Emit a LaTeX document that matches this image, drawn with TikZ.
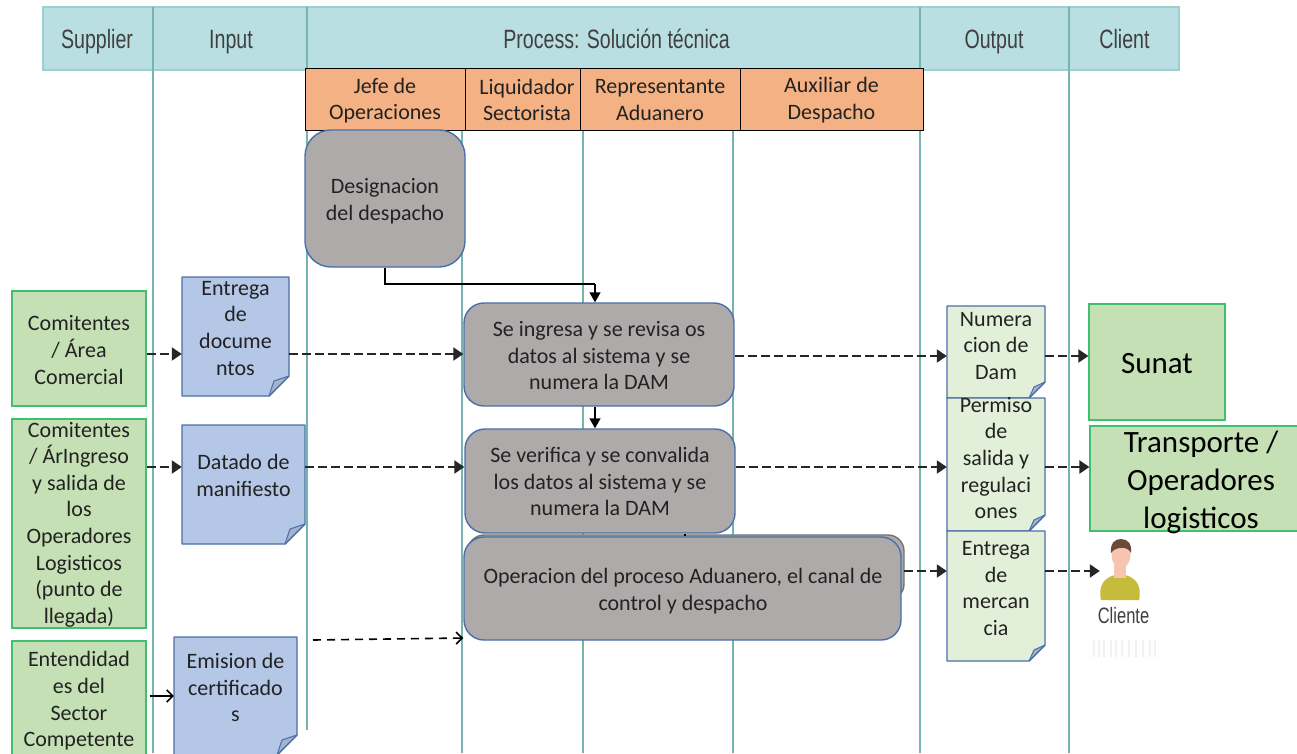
\documentclass[tikz,border=0pt]{standalone}
\usepackage{fontspec}
\setmainfont{Carlito}
\newfontfamily\narrowfont[FakeStretch=0.74]{Liberation Sans}
\usetikzlibrary{arrows.meta,positioning,calc}
\definecolor{headfill}{HTML}{B9DFE2}
\definecolor{headline}{HTML}{9CCFCF}
\definecolor{laneline}{HTML}{76B5AE}
\definecolor{orangefill}{HTML}{F4B183}
\definecolor{greyfill}{HTML}{AEAAAA}
\definecolor{boxline}{HTML}{4A6FA8}
\definecolor{greenfill}{HTML}{C5E0B4}
\definecolor{greenline}{HTML}{3FBF6F}
\definecolor{bluefill}{HTML}{B4C7E7}
\definecolor{palefill}{HTML}{E2F0D9}
\definecolor{foldfill}{HTML}{A5B4CC}
\definecolor{skin}{HTML}{F7C4B0}
\definecolor{hair}{HTML}{6B4A3A}
\definecolor{shirt}{HTML}{C4BC3A}
\definecolor{inkcol}{HTML}{222222}
\tikzset{
  x=1pt,y=-1pt,
  txt/.style={font=\fontsize{22}{26.6}\selectfont,text=inkcol,align=center,inner sep=0pt},
  bigtxt/.style={font=\fontsize{31}{38}\selectfont,text=black,align=center,inner sep=0pt},
  headtxt/.style={font=\narrowfont\fontsize{26.5}{30}\selectfont,text=black!75,inner sep=0pt,anchor=base},
  lane/.style={draw=laneline,line width=2.2pt},
  roleb/.style={draw=black,fill=orangefill,line width=1pt,inner sep=0pt},
  procb/.style={draw=boxline,fill=greyfill,line width=1.4pt,rounded corners=20pt,inner sep=0pt},
  srcb/.style={draw=greenline,fill=greenfill,line width=1.2pt,inner sep=0pt},
  flow/.style={draw=black!85,line width=2pt,dash pattern=on 9pt off 4pt,-{Triangle[length=10pt,width=13pt]}},
  flowthin/.style={draw=black,line width=1.6pt,dash pattern=on 8pt off 6pt,-{Straight Barb[length=6pt,width=12pt]}},
  solidopen/.style={draw=black,line width=1.6pt,shorten <=3pt,-{Straight Barb[length=6pt,width=12pt]}},
  solidtip/.style={draw=black,line width=1.4pt,-{Triangle[length=10pt,width=11pt]}},
}
% name, x1, y1, x2, y2, fold, text centre y, fill, text
\newcommand{\notebox}[9]{%
  \fill[#8] (#2,#3) -- (#4,#3) -- (#4,#5-#6) -- (#4-#6,#5) -- (#2,#5) -- cycle;
  \fill[foldfill] (#4,#5-#6) -- (#4-#6+1,#5) -- (#4-#6+5,#5-#6+5) -- cycle;
  \draw[boxline,line width=1.4pt,line join=round] (#2,#3) -- (#4,#3) -- (#4,#5-#6) -- (#4-#6,#5) -- (#2,#5) -- cycle;
  \draw[boxline,line width=1pt] (#4,#5-#6) -- (#4-#6+5,#5-#6+5) -- (#4-#6,#5);
  \node[minimum width=#4pt-#2pt,minimum height=#5pt-#3pt,inner sep=0pt] (#1) at ({(#2+#4)/2},{(#3+#5)/2}) {};
  \node[txt] (#1t) at ({(#2+#4)/2},#7) {#9};
}
\begin{document}
\begin{tikzpicture}
\useasboundingbox (0,0) rectangle (1297,753);
\clip (0,0) rectangle (1297,753);
\fill[white] (0,0) rectangle (1297,753);
% row levels for the connectors
\coordinate (r1) at (0,354);
\coordinate (r1b) at (0,356);
\coordinate (r2) at (0,467);
\coordinate (r3) at (0,571);
\coordinate (r4) at (0,696);
\coordinate (freestart) at (313,640);
\coordinate (elbow) at (595,284);
% header band
\node[draw=headline,fill=headfill,line width=1.6pt,minimum width=1136pt,minimum height=63pt,inner sep=0pt] (band) at (611,38.5) {};
% lanes
\draw[lane] (153,7) -- (153,753);
\draw[lane] (307,7) -- (307,730);
\draw[lane] (920,7) -- (920,753);
\draw[lane] (1069,7) -- (1069,753);
\draw[lane] (462,130) -- (462,753);
\draw[lane] (583,130) -- (583,753);
\draw[lane] (733,130) -- (733,753);
\node[headtxt] (hsup) at (97,48) {Supplier};
\node[headtxt] (hinp) at (231,48) {Input};
\node[headtxt] (hpro) at (616.5,48) {Process: Solución técnica};
\node[headtxt] (hout) at (994,48) {Output};
\node[headtxt] (hcli) at (1124.5,48) {Client};
% role headers
\node[roleb,minimum width=160pt,minimum height=62pt] (r-jefe) at (385,99) {};
\node[roleb,minimum width=115pt,minimum height=62pt] (r-liq) at (522.5,99) {};
\node[roleb,minimum width=160pt,minimum height=62pt] (r-rep) at (660,99) {};
\node[roleb,minimum width=183pt,minimum height=62pt] (r-aux) at (831.5,99) {};
\node[txt] (t-jefe) at (385,100.5) {Jefe de\\Operaciones};
\node[txt] (t-liq) at (527,100) {Liquidador\\Sectorista};
\node[txt] (t-rep) at (660,100) {Representante\\Aduanero};
\node[txt] (t-aux) at (831.5,100) {Auxiliar de\\Despacho};
% process boxes
\node[procb,rounded corners=26pt,minimum width=160pt,minimum height=137pt] (des) at (385,198.5) {};
\node[txt] (t-des) at (385,201) {Designacion\\del despacho};
\node[procb,minimum width=270pt,minimum height=103pt] (p1) at (599,354.5) {};
\node[txt] (t-p1) at (599,355.7) {Se ingresa y se revisa os\\datos al sistema y se\\numera la DAM};
\node[procb,minimum width=270pt,minimum height=104pt] (p2) at (600,481) {};
\node[txt] (t-p2) at (600,481.7) {Se verifica y se convalida\\los datos al sistema y se\\numera la DAM};
\draw[black!55,fill=greyfill,line width=1.4pt,rounded corners=16pt] (468,535) rectangle (904,600);
\node[procb,minimum width=437pt,minimum height=103pt] (p3) at (682.5,588.5) {};
\node[txt] (t-p3) at (683,591) {Operacion del proceso Aduanero, el canal de\\control y despacho};
% source boxes
\node[srcb,minimum width=134pt,minimum height=115pt] (c1) at (79,348.5) {};
\node[txt] (t-c1) at (79,350) {Comitentes\\/ Área\\Comercial};
\node[srcb,minimum width=134pt,minimum height=209pt] (c2) at (79,523.5) {};
\node[txt] (t-c2) at (79,524.5) {Comitentes\\/ ÁrIngreso\\y salida de\\los\\Operadores\\Logisticos\\(punto de\\llegada)};
\node[srcb,minimum width=134pt,minimum height=120pt] (c3) at (79,701) {};
\node[txt] (t-c3) at (79,701) {Entendidad\\es del\\Sector\\Competente};
% input notes
\notebox{n1}{182}{277}{289}{396}{20}{328.3}{bluefill}{Entrega\\de\\docume\\ntos}
\notebox{n2}{182}{425}{305}{544}{20}{475.5}{bluefill}{Datado de\\manifiesto}
\notebox{n3}{174}{637}{297}{755}{20}{687.5}{bluefill}{Emision de\\certificado\\s}
% output notes
\notebox{o1}{947}{306}{1045}{398}{16}{346}{palefill}{Numera\\cion de\\Dam}
\notebox{o2}{947}{398}{1045}{531}{16}{458}{palefill}{Permiso\\de\\salida y\\regulaci\\ones}
\notebox{o3}{947}{531}{1045}{661}{16}{588.5}{palefill}{Entrega\\de\\mercan\\cia}
% clients
\node[srcb,minimum width=136pt,minimum height=116pt] (sunat) at (1157,362) {};
\node[bigtxt] (t-sunat) at (1157,364) {Sunat};
\node[srcb,minimum width=224pt,minimum height=105pt] (trans) at (1202,478.5) {};
\node[bigtxt] (t-trans) at (1201,482) {Transporte /\\Operadores\\logisticos};
% person
\fill[shirt] (1101,600) .. controls (1098,585) and (1104,576) .. (1120,574) .. controls (1136,576) and (1142,585) .. (1139,600) -- cycle;
\fill[skin] (1114,565) rectangle (1126,578);
\fill[skin] (1121,555) ellipse [x radius=9.5,y radius=13];
\fill[hair] (1111,553) .. controls (1110,543) and (1115,539) .. (1121,539) .. controls (1128,539) and (1132,544) .. (1131,553) .. controls (1128,546) and (1116,546) .. (1111,553) -- cycle;
\node[inner sep=0pt,minimum width=40pt,minimum height=60pt] (person) at (1120,570) {};
\node[font=\narrowfont\fontsize{22.3}{26}\selectfont,text=black!75,inner sep=0pt,anchor=base] (cliente) at (1123.5,623) {Cliente};
\foreach \xx in {1094,1099,1104,1111,1116,1122,1129,1136,1143,1150,1155}
  \draw[black!5,line width=1.3pt] (\xx,640) -- (\xx,657);
% connectors
\draw[draw=black,line width=1.4pt] (des.south) |- (elbow);
\draw[solidtip] (elbow) -- (elbow |- p1.north);
\draw[solidtip] (p1.south -| elbow) -- (p2.north -| elbow);
\draw[black,line width=1.4pt] (p2.south -| 685,0) -- (p3.north -| 685,0);
\draw[flow] (c1.east |- r1) -- (n1.west |- r1);
\draw[flow] (n1.east |- r1) -- (p1.west |- r1);
\draw[flow] (p1.east |- r1b) -- (o1.west |- r1b);
\draw[flow] (o1.east |- r1b) -- (sunat.west |- r1b);
\draw[flow] (c2.east |- r2) -- (n2.west |- r2);
\draw[flow] (n2.east |- r2) -- (p2.west |- r2);
\draw[flow] (p2.east |- r2) -- (o2.west |- r2);
\draw[flow] (o2.east |- r2) -- (trans.west |- r2);
\draw[flow] (904,571) -- (o3.west |- r3);
\draw[flow] (o3.east |- r3) -- (person.west |- r3);
\draw[solidopen] (c3.east |- r4) -- (n3.west |- r4);
\draw[flowthin] (freestart) -- (p3.west |- 0,638);
\end{tikzpicture}
\end{document}
